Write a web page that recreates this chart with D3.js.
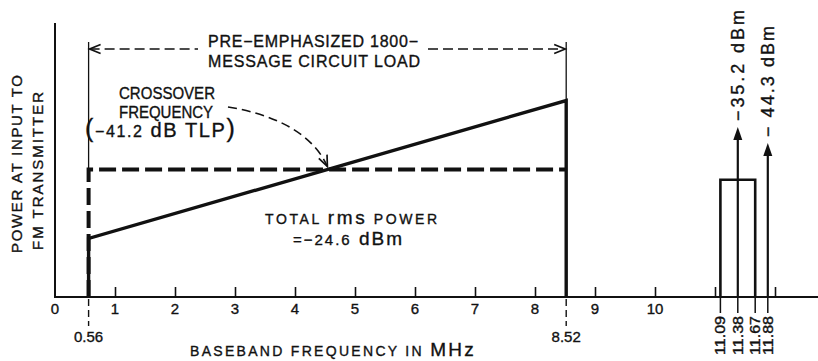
<!DOCTYPE html>
<html><head><meta charset="utf-8">
<script src="https://cdn.jsdelivr.net/npm/d3@7"></script>
<style>
html,body{margin:0;padding:0;background:#fff;}
svg{display:block;}
text{font-family:"Liberation Sans",Arial,sans-serif;fill:#111;stroke:#111;stroke-width:0.35px;}
</style></head><body>
<svg id="chart" width="818" height="361"></svg>
<script>
// Baseband frequency axis (MHz)
const tickValues = [1, 2, 3, 4, 5, 6, 7, 8, 9, 10, 11, 12];
const tickLabelValues = [0, 1, 2, 3, 4, 5, 6, 7, 8, 9, 10];
const tickLabels = ["0", "1", "2", "3", "4", "5", "6", "7", "8", "9", "10"];
const bandEdges = [0.56, 8.52];
const bandEdgeLabels = ["0.56", "8.52"];

// Message-circuit load levels (dB, relative)
const flatLevel = -41.2;              // flat (un-emphasized) load
const emphasisLevels = [-45.2, -37.2]; // pre-emphasized load at the band edges

// Pilot / auxiliary region
const pilotBand = [11.09, 11.67];
const pilotBandLevel = -41.8;
const toneFreqs = [11.38, 11.88];
const toneLevels = [-35.2, -44.3];
const toneLabels = ["\u221235.2 dBm", "\u2212 44.3 dBm"];
const pilotTickFreqs = [11.09, 11.38, 11.67, 11.88];
const pilotTickLabels = ["11.09", "11.38", "11.67", "11.88"];

const svg = d3.select("#chart");
const W = 818, axisY = 297;

const x = d3.scaleLinear().domain([0, 12]).range([55, 775]);
const y = d3.scaleLinear().domain([-48.6, -32.7]).range([axisY, 23]);
// tone arrows use their own compressed dBm scale
const yTone = d3.scaleLinear().domain([-131.9, -35.2]).range([axisY, 127]);

const ink = "#111";

// ---- axes ----
svg.append("line").attr("x1", x(0)).attr("x2", x(0)).attr("y1", 23).attr("y2", axisY + 1)
  .attr("stroke", ink).attr("stroke-width", 2);
svg.append("line").attr("x1", x(0)).attr("x2", W).attr("y1", axisY).attr("y2", axisY)
  .attr("stroke", ink).attr("stroke-width", 2);

const xAxis = d3.axisBottom(x).tickValues(tickValues).tickSize(-10).tickFormat("");
const gx = svg.append("g").attr("transform", `translate(0,${axisY})`).call(xAxis);
gx.select(".domain").remove();
gx.selectAll(".tick line").attr("stroke", ink).attr("stroke-width", 1.6);

svg.append("g").selectAll("text").data(tickLabelValues).join("text")
  .attr("x", d => x(d)).attr("y", 309).attr("dy", "0.35em")
  .attr("text-anchor", "middle").attr("font-size", 15)
  .text((d, i) => tickLabels[i]);

// ---- band edges below the axis ----
svg.append("g").selectAll("line").data(bandEdges).join("line")
  .attr("x1", d => x(d)).attr("x2", d => x(d)).attr("y1", axisY + 2).attr("y2", 326)
  .attr("stroke", ink).attr("stroke-width", 1.4).attr("stroke-dasharray", "7,4");
svg.append("g").selectAll("text").data(bandEdges).join("text")
  .attr("x", d => x(d)).attr("y", 337).attr("dy", "0.35em")
  .attr("text-anchor", "middle").attr("font-size", 15)
  .text((d, i) => bandEdgeLabels[i]);

// ---- flat load (dashed) ----
const flatPath = d3.path();
flatPath.moveTo(x(bandEdges[0]), axisY);
flatPath.lineTo(x(bandEdges[0]), y(flatLevel));
flatPath.lineTo(x(bandEdges[1]), y(flatLevel));
svg.append("path").attr("d", flatPath.toString())
  .attr("fill", "none").attr("stroke", ink).attr("stroke-width", 4)
  .attr("stroke-dasharray", "17,6");

// ---- pre-emphasized load (solid) ----
const emph = d3.line()([
  [x(bandEdges[0]), axisY],
  [x(bandEdges[0]), y(emphasisLevels[0])],
  [x(bandEdges[1]), y(emphasisLevels[1])],
  [x(bandEdges[1]), axisY]
]);
svg.append("path").attr("d", emph).attr("fill", "none")
  .attr("stroke", ink).attr("stroke-width", 3.4).attr("stroke-linejoin", "miter");

// ---- extension lines and dimension arrow ----
const extTop = 42, dimY = 49;
svg.append("line").attr("x1", x(bandEdges[0])).attr("x2", x(bandEdges[0]))
  .attr("y1", extTop).attr("y2", y(flatLevel)).attr("stroke", ink).attr("stroke-width", 1.3);
svg.append("line").attr("x1", x(bandEdges[1])).attr("x2", x(bandEdges[1]))
  .attr("y1", extTop).attr("y2", y(emphasisLevels[1])).attr("stroke", ink).attr("stroke-width", 1.3);

[[x(bandEdges[0]) + 1, 198], [428, x(bandEdges[1]) - 1]].forEach(([a, b]) => {
  svg.append("line").attr("x1", a).attr("x2", b).attr("y1", dimY).attr("y2", dimY)
    .attr("stroke", ink).attr("stroke-width", 1.6).attr("stroke-dasharray", "10,5");
});
function chevron(tx, ty, angle, len, half) {
  const c = Math.cos(angle), s = Math.sin(angle);
  const bx = tx - c * len, by = ty - s * len;
  const px = -s * half, py = c * half;
  return `M${bx + px},${by + py}L${tx},${ty}L${bx - px},${by - py}`;
}
svg.append("path").attr("d", chevron(x(bandEdges[0]) + 1, dimY, Math.PI, 11, 4.5))
  .attr("fill", "none").attr("stroke", ink).attr("stroke-width", 1.7);
svg.append("path").attr("d", chevron(x(bandEdges[1]) - 1, dimY, 0, 11, 4.5))
  .attr("fill", "none").attr("stroke", ink).attr("stroke-width", 1.7);

svg.append("text").attr("x", 208).attr("y", 41).attr("dy", "0.35em")
  .attr("font-size", 16).attr("textLength", 210).attr("lengthAdjust", "spacing")
  .text("PRE\u2212EMPHASIZED 1800\u2212");
svg.append("text").attr("x", 208).attr("y", 61).attr("dy", "0.35em")
  .attr("font-size", 16).attr("textLength", 212).attr("lengthAdjust", "spacing")
  .text("MESSAGE CIRCUIT LOAD");

// ---- crossover annotation ----
const fCross = bandEdges[0] + (flatLevel - emphasisLevels[0]) /
  (emphasisLevels[1] - emphasisLevels[0]) * (bandEdges[1] - bandEdges[0]);
const cx = x(fCross), cy = y(flatLevel) - 3;
const c1 = [272, 114], c2 = [312, 132];
svg.append("path").attr("d", `M228,107C${c1[0]},${c1[1]} ${c2[0]},${c2[1]} ${cx},${cy}`)
  .attr("fill", "none").attr("stroke", ink).attr("stroke-width", 1.6)
  .attr("stroke-dasharray", "9,5");
svg.append("path").attr("d", chevron(cx, cy, Math.atan2(cy - c2[1], cx - c2[0]), 11, 4.5))
  .attr("fill", "none").attr("stroke", ink).attr("stroke-width", 1.7);

svg.append("text").attr("x", 119).attr("y", 93).attr("dy", "0.35em")
  .attr("font-size", 16).attr("textLength", 96).attr("lengthAdjust", "spacingAndGlyphs").text("CROSSOVER");
svg.append("text").attr("x", 119).attr("y", 112).attr("dy", "0.35em")
  .attr("font-size", 16).attr("textLength", 94).attr("lengthAdjust", "spacingAndGlyphs").text("FREQUENCY");
const tlp = svg.append("text").attr("x", 85).attr("y", 131).attr("dy", "0.35em")
  .attr("letter-spacing", 1.6);
tlp.append("tspan").attr("font-size", 25).text("(");
tlp.append("tspan").attr("font-size", 16).text("\u221241.2");
tlp.append("tspan").attr("font-size", 20).text(" dB TLP");
tlp.append("tspan").attr("font-size", 25).text(")");

// ---- total power annotation ----
const tot = svg.append("text").attr("x", 265).attr("y", 218).attr("dy", "0.35em")
  .attr("letter-spacing", 2.6);
tot.append("tspan").attr("font-size", 14).text("TOTAL ");
tot.append("tspan").attr("font-size", 19).text("rms");
tot.append("tspan").attr("font-size", 14).text(" POWER");
const tot2 = svg.append("text").attr("x", 293).attr("y", 239).attr("dy", "0.35em")
  .attr("letter-spacing", 2);
tot2.append("tspan").attr("font-size", 15).text("=\u221224.6");
tot2.append("tspan").attr("font-size", 19).text(" dBm");

// ---- pilot band and tones ----
const box = d3.line()([
  [x(pilotBand[0]), axisY],
  [x(pilotBand[0]), y(pilotBandLevel)],
  [x(pilotBand[1]), y(pilotBandLevel)],
  [x(pilotBand[1]), axisY]
]);
svg.append("path").attr("d", box).attr("fill", "none")
  .attr("stroke", ink).attr("stroke-width", 2.6);

const tones = toneFreqs.map((f, i) => ({ f, v: toneLevels[i], label: toneLabels[i] }));
const tg = svg.append("g");
tg.selectAll("line").data(tones).join("line")
  .attr("x1", d => x(d.f)).attr("x2", d => x(d.f))
  .attr("y1", axisY).attr("y2", d => yTone(d.v) + 10)
  .attr("stroke", ink).attr("stroke-width", 2.2);
tg.selectAll("path").data(tones).join("path")
  .attr("d", d => {
    const tx = x(d.f), ty = yTone(d.v);
    return `M${tx},${ty}L${tx + 4.5},${ty + 13}L${tx - 4.5},${ty + 13}Z`;
  }).attr("fill", ink);
tg.selectAll("text").data(tones).join("text")
  .attr("transform", d => `translate(${x(d.f)},${yTone(d.v) - 6}) rotate(-90)`)
  .attr("dy", "0.35em").attr("font-size", 18)
  .attr("textLength", 111).attr("lengthAdjust", "spacing")
  .text(d => d.label);

// pilot frequency markers below the axis
const pg = svg.append("g");
pg.selectAll("line").data(pilotTickFreqs).join("line")
  .attr("x1", d => x(d)).attr("x2", d => x(d)).attr("y1", axisY).attr("y2", 313)
  .attr("stroke", ink).attr("stroke-width", 1.5);
pg.selectAll("text").data(pilotTickFreqs).join("text")
  .attr("transform", d => `translate(${x(d)},316) rotate(-90)`)
  .attr("dy", "0.35em").attr("text-anchor", "end").attr("font-size", 14)
  .attr("textLength", 39).attr("lengthAdjust", "spacingAndGlyphs")
  .text((d, i) => pilotTickLabels[i]);

// ---- axis titles ----
const xt = svg.append("text").attr("x", 190).attr("y", 350).attr("dy", "0.35em")
  .attr("letter-spacing", 2.3);
xt.append("tspan").attr("font-size", 14).text("BASEBAND FREQUENCY IN ");
xt.append("tspan").attr("font-size", 19).text("MHz");

svg.append("text").attr("transform", "translate(17,253) rotate(-90)")
  .attr("dy", "0.35em").attr("font-size", 15)
  .attr("textLength", 178).attr("lengthAdjust", "spacing").text("POWER AT INPUT TO");
svg.append("text").attr("transform", "translate(38,250) rotate(-90)")
  .attr("dy", "0.35em").attr("font-size", 15)
  .attr("textLength", 158).attr("lengthAdjust", "spacing").text("FM TRANSMITTER");
</script>
</body></html>
